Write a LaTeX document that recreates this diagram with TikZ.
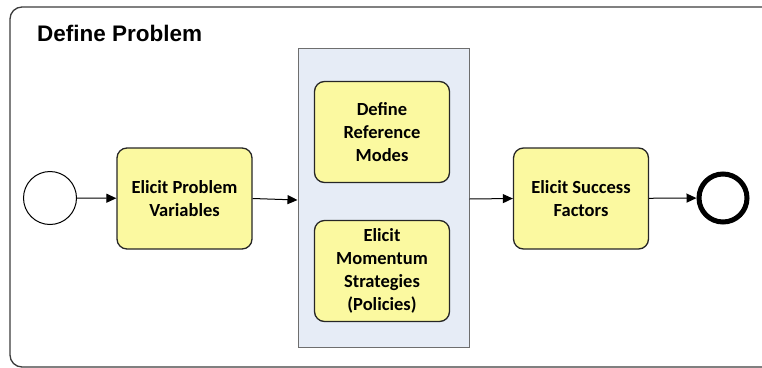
\documentclass[tikz,border=0pt]{standalone}
\usepackage{fontspec}
\setmainfont{Carlito}
\newfontfamily\titlefont{Liberation Sans}
\usetikzlibrary{arrows.meta}
\definecolor{taskfill}{RGB}{251,249,160}
\definecolor{groupfill}{RGB}{230,236,246}
\definecolor{groupline}{RGB}{110,110,110}
\definecolor{frameline}{RGB}{60,60,60}
\tikzset{
  task/.style={draw=black!85, line width=1.3pt, fill=taskfill, rounded corners=10pt,
    minimum width=135pt, minimum height=101pt, align=center, inner sep=0pt,
    font=\fontsize{18.5}{22.8}\selectfont\bfseries},
  flow/.style={draw=black, line width=1pt, -{Triangle[length=10pt,width=9pt]}},
}
\begin{document}
\begin{tikzpicture}[x=1pt,y=-1pt]
\useasboundingbox (0,0) rectangle (762,367);
% outer frame
\draw[frameline, line width=1.3pt, rounded corners=12pt] (780,7) -- (10,7) -- (10,367) -- (780,367);
\node[anchor=west, inner sep=0pt, font=\titlefont\fontsize{22.5}{26}\selectfont\bfseries] (title) at (37,33) {Define Problem};
% group
\node[draw=groupline, line width=1pt, fill=groupfill, minimum width=171pt, minimum height=299pt, inner sep=0pt] (grp) at (383.5,197.5) {};
% events
\node[draw=black, line width=1pt, circle, minimum size=53pt, inner sep=0pt, fill=white] (start) at (50,198) {};
\node[draw=black, line width=5pt, circle, minimum size=48pt, inner sep=0pt, fill=white] (end) at (723,198) {};
% tasks
\node[task] (t1) at (184.5,198.5) {Elicit Problem\\Variables};
\node[task] (t2) at (382,132) {Define\\Reference\\Modes};
\node[task] (t3) at (382,271) {Elicit\\Momentum\\Strategies\\(Policies)};
\node[task] (t4) at (581,198.5) {Elicit Success\\Factors};
% flows
\draw[flow] (start) -- (t1);
\draw[flow] (t1.east) -- (grp.west |- 0,200);
\draw[flow] (grp.east |- 0,199) -- (t4.west);
\draw[flow] (t4) -- (end);
\end{tikzpicture}
\end{document}
